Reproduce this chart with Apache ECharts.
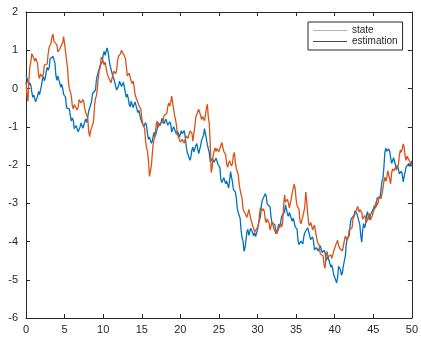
<!DOCTYPE html>
<html><head><meta charset="utf-8">
<script src="https://cdn.jsdelivr.net/npm/echarts@6/dist/echarts.min.js"></script>
<style>html,body{margin:0;padding:0;background:#fff}#c{width:421px;height:338px}</style>
</head><body><div id="c"></div>
<script>
const sampleStep = 0.125;
const xTicks = [0,5,10,15,20,25,30,35,40,45,50];
const yTicks = [-6,-5,-4,-3,-2,-1,0,1,2];
const seriesNames = ['state','estimation'];
const stateValues = [
0.36,0.35,0.17,0.09,0.15,0.08,-0.09,-0.23,-0.17,-0.18,-0.35,-0.31,-0.20,-0.08,-0.16,-0.12,0.07,0.25,0.31,0.20,
0.28,0.45,0.55,0.48,0.54,0.78,0.82,0.78,0.84,0.84,0.67,0.34,0.21,0.33,0.30,0.14,0.03,0.11,0.01,-0.15,
-0.14,-0.23,-0.50,-0.55,-0.45,-0.54,-0.72,-0.85,-0.77,-0.83,-1.05,-1.05,-0.97,-0.95,-1.13,-1.15,-1.01,-0.90,-0.90,-1.04,
-0.99,-0.86,-0.80,-0.89,-0.86,-0.59,-0.51,-0.48,-0.34,-0.13,-0.08,-0.16,-0.04,0.23,0.35,0.35,0.40,0.61,0.63,0.68,
0.88,0.97,0.87,0.90,1.06,0.97,0.78,0.62,0.65,0.57,0.32,0.26,0.28,0.22,-0.04,-0.07,0.07,0.19,0.19,0.05,
0.08,0.16,0.15,-0.10,-0.23,-0.15,-0.26,-0.42,-0.48,-0.33,-0.33,-0.50,-0.46,-0.35,-0.38,-0.54,-0.63,-0.57,-0.69,-0.81,
-0.76,-0.79,-1.00,-1.02,-0.89,-0.99,-1.19,-1.33,-1.27,-1.27,-1.43,-1.37,-1.22,-1.14,-1.26,-1.24,-1.05,-0.90,-0.86,-0.97,
-0.89,-0.78,-0.75,-0.92,-0.96,-0.80,-0.84,-0.96,-0.97,-0.87,-0.93,-1.14,-1.14,-1.00,-1.00,-1.13,-1.20,-1.11,-1.19,-1.27,
-1.19,-1.10,-1.18,-1.21,-1.10,-1.25,-1.49,-1.66,-1.62,-1.67,-1.88,-1.78,-1.60,-1.53,-1.66,-1.66,-1.50,-1.44,-1.49,-1.70,
-1.73,-1.50,-1.35,-1.35,-1.23,-1.05,-1.06,-1.32,-1.47,-1.50,-1.68,-1.91,-1.94,-1.83,-1.85,-1.93,-1.95,-1.82,-1.86,-1.98,
-1.94,-2.07,-2.38,-2.46,-2.40,-2.33,-2.36,-2.49,-2.42,-2.43,-2.60,-2.43,-2.17,-2.21,-2.44,-2.64,-2.68,-2.71,-2.86,-3.14,
-3.24,-3.28,-3.40,-3.72,-3.91,-3.99,-4.26,-4.17,-3.97,-3.75,-3.68,-3.84,-3.79,-3.65,-3.65,-3.78,-3.85,-3.77,-3.87,-3.86,
-3.69,-3.52,-3.53,-3.36,-3.05,-2.92,-2.89,-2.92,-2.75,-2.81,-3.02,-3.06,-3.02,-3.09,-3.36,-3.51,-3.50,-3.47,-3.56,-3.80,
-3.85,-3.66,-3.55,-3.63,-3.59,-3.35,-3.31,-3.32,-3.22,-3.04,-3.02,-3.28,-3.34,-3.24,-3.27,-3.40,-3.47,-3.39,-3.49,-3.61,
-3.56,-3.68,-3.98,-4.08,-4.04,-3.99,-4.04,-4.06,-3.87,-3.77,-3.82,-3.77,-3.64,-3.64,-3.84,-3.95,-3.90,-3.88,-3.98,-4.22,
-4.27,-4.16,-4.13,-4.25,-4.25,-4.11,-4.16,-4.29,-4.32,-4.23,-4.29,-4.50,-4.51,-4.40,-4.42,-4.58,-4.67,-4.61,-4.73,-4.87,
-4.84,-4.87,-5.08,-4.94,-4.65,-4.65,-4.74,-4.88,-4.82,-4.63,-4.60,-4.38,-4.07,-3.92,-3.96,-3.85,-3.58,-3.41,-3.36,-3.43,
-3.32,-3.20,-3.15,-3.27,-3.26,-3.31,-3.56,-3.84,-4.02,-3.70,-3.53,-3.64,-3.54,-3.31,-3.22,-3.36,-3.43,-3.30,-3.34,-3.33,
-3.16,-3.06,-3.13,-3.07,-2.86,-2.81,-2.86,-2.86,-2.65,-2.42,-2.35,-2.05,-1.67,-1.56,-1.64,-1.69,-1.58,-1.64,-1.81,-1.96,
-1.92,-1.81,-1.77,-2.00,-2.11,-2.01,-2.11,-2.23,-2.24,-2.16,-2.23,-2.44,-2.44,-2.18,-2.05,-2.08,-2.05,-1.96,-2.04,-2.05,
-1.89];
const estimationValues = [
0.18,-0.16,-0.33,0.22,0.57,0.69,0.91,0.93,0.80,0.71,0.79,0.77,0.66,0.36,0.26,0.38,0.33,0.30,0.38,0.61,
0.65,0.61,0.64,0.92,1.07,1.03,1.19,1.36,1.42,1.23,1.20,1.27,1.14,0.96,0.92,1.03,1.08,1.05,1.20,1.36,
1.36,0.97,0.74,0.56,0.17,-0.01,-0.09,-0.20,-0.45,-0.53,-0.42,-0.38,-0.42,-0.56,-0.49,-0.29,-0.25,-0.38,-0.39,-0.29,
-0.36,-0.54,-0.64,-0.65,-0.78,-1.12,-1.26,-1.10,-1.03,-1.03,-0.87,-0.47,-0.26,-0.19,0.02,0.28,0.48,0.56,0.82,0.85,
0.71,0.62,0.69,0.65,0.40,0.33,0.36,0.33,0.15,0.16,0.34,0.45,0.48,0.39,0.49,0.75,0.85,0.82,0.91,1.00,
0.98,0.90,0.89,0.79,0.57,0.33,0.29,0.40,0.40,0.19,0.13,0.20,0.07,-0.15,-0.23,-0.20,-0.22,-0.44,-0.47,-0.54,
-0.77,-0.92,-0.91,-1.05,-1.38,-1.56,-1.64,-1.90,-2.30,-2.25,-2.01,-1.68,-1.42,-1.41,-1.19,-0.94,-0.85,-1.01,-1.04,-0.91,
-0.95,-0.96,-0.88,-0.71,-0.66,-0.76,-0.65,-0.47,-0.38,-0.46,-0.37,-0.20,-0.22,-0.53,-0.70,-0.81,-0.97,-1.20,-1.25,-1.25,
-1.40,-1.45,-1.33,-1.28,-1.43,-1.39,-1.24,-1.20,-1.30,-1.30,-1.11,-1.10,-1.17,-1.38,-1.39,-0.99,-0.75,-0.80,-0.72,-0.54,
-0.53,-0.71,-0.81,-0.73,-0.76,-0.84,-0.71,-0.51,-0.41,-0.75,-0.92,-1.46,-2.20,-2.06,-1.77,-1.63,-1.55,-1.65,-1.57,-1.53,
-1.65,-1.65,-1.49,-1.41,-1.53,-1.64,-1.64,-1.74,-1.97,-2.06,-1.96,-1.89,-1.90,-2.03,-1.96,-1.74,-1.67,-1.94,-2.09,-2.08,
-2.25,-2.50,-2.66,-2.71,-2.88,-3.15,-3.21,-3.17,-3.23,-3.37,-3.34,-3.16,-3.17,-3.41,-3.50,-3.50,-3.55,-3.75,-3.77,-3.67,
-3.72,-3.59,-3.29,-3.12,-3.15,-3.20,-3.14,-3.21,-3.42,-3.51,-3.41,-3.43,-3.52,-3.70,-3.67,-3.49,-3.47,-3.67,-3.74,-3.68,
-3.80,-3.82,-3.76,-3.59,-3.53,-3.62,-3.51,-3.10,-2.78,-2.97,-3.00,-2.90,-2.99,-3.12,-3.10,-2.88,-2.72,-2.70,-2.50,-2.62,
-2.90,-3.06,-3.06,-3.16,-3.46,-3.54,-3.52,-3.34,-3.30,-3.10,-2.71,-2.95,-3.27,-3.53,-3.59,-3.50,-3.57,-3.70,-3.70,-3.57,
-3.62,-3.86,-4.01,-4.00,-4.10,-4.32,-4.33,-4.31,-4.38,-4.62,-4.70,-4.38,-4.26,-4.40,-4.40,-4.35,-4.35,-4.44,-4.35,-4.24,
-4.29,-4.24,-4.03,-3.97,-4.10,-4.17,-4.14,-4.13,-4.25,-4.21,-3.98,-3.86,-3.82,-3.96,-3.89,-3.70,-3.67,-3.72,-3.64,-3.41,
-3.35,-3.37,-3.31,-3.14,-3.08,-3.23,-3.17,-3.15,-3.23,-3.42,-3.44,-3.32,-3.39,-3.50,-3.46,-3.34,-3.27,-3.44,-3.43,-3.32,
-3.37,-3.30,-3.06,-2.96,-3.05,-2.99,-2.82,-2.78,-2.88,-2.84,-2.61,-2.43,-2.32,-2.43,-2.34,-2.15,-2.12,-2.37,-2.49,-2.21,
-2.10,-2.16,-2.13,-2.07,-2.13,-2.16,-1.99,-1.75,-1.61,-1.67,-1.57,-1.45,-1.53,-1.78,-1.88,-1.77,-1.72,-1.87,-1.83,-1.85,
-2.02];

const toPairs = vals => vals.map((v, i) => [i * sampleStep, v]);
const font = '"Liberation Sans", Arial, sans-serif';
const axisColor = '#262626';
const chart = echarts.init(document.getElementById('c'), null, {renderer: 'canvas'});
const baseAxis = {
  type: 'value', splitLine: {show: false},
  axisLine: {show: true, onZero: false, lineStyle: {color: axisColor, width: 1}},
  axisTick: {show: true, inside: true, length: 4, lineStyle: {color: axisColor, width: 1}},
  minorTick: {show: false}
};
chart.setOption({
  animation: false,
  backgroundColor: '#fff',
  grid: {left: 26, right: 8, top: 12, bottom: 20, containLabel: false},
  xAxis: [
    Object.assign({}, baseAxis, {min: xTicks[0], max: xTicks[xTicks.length - 1], interval: 5, position: 'bottom',
      axisLabel: {show: true, color: axisColor, fontSize: 11, fontFamily: font, margin: 6}}),
    Object.assign({}, baseAxis, {min: xTicks[0], max: xTicks[xTicks.length - 1], interval: 5, position: 'top', axisLabel: {show: false}})
  ],
  yAxis: [
    Object.assign({}, baseAxis, {min: yTicks[0], max: yTicks[yTicks.length - 1], interval: 1, position: 'left',
      axisLabel: {show: true, color: axisColor, fontSize: 11, fontFamily: font, margin: 8}}),
    Object.assign({}, baseAxis, {min: yTicks[0], max: yTicks[yTicks.length - 1], interval: 1, position: 'right', axisLabel: {show: false}})
  ],
  legend: {
    orient: 'vertical', left: 308, top: 22,
    padding: [3, 5, 3, 5], itemGap: 0, itemWidth: 34, itemHeight: 1, itemTextGap: 4,
    backgroundColor: '#fff', borderColor: '#262626', borderWidth: 1, borderRadius: 0,
    icon: 'rect',
    textStyle: {fontSize: 10, fontFamily: font, color: '#262626', lineHeight: 11},
    data: [
      {name: seriesNames[0], itemStyle: {color: '#b4b4b4'}, lineStyle: {color: '#b4b4b4'}},
      {name: seriesNames[1], itemStyle: {color: '#4a4a4a'}, lineStyle: {color: '#4a4a4a'}}
    ]
  },
  series: [
    {name: seriesNames[0], type: 'line', data: toPairs(stateValues), showSymbol: false, symbol: 'none',
     lineStyle: {color: '#0072BD', width: 1.3}, itemStyle: {color: '#0072BD'}, z: 2, silent: true},
    {name: seriesNames[1], type: 'line', data: toPairs(estimationValues), showSymbol: false, symbol: 'none',
     lineStyle: {color: '#D95319', width: 1.3}, itemStyle: {color: '#D95319'}, z: 3, silent: true}
  ]
});
</script></body></html>
